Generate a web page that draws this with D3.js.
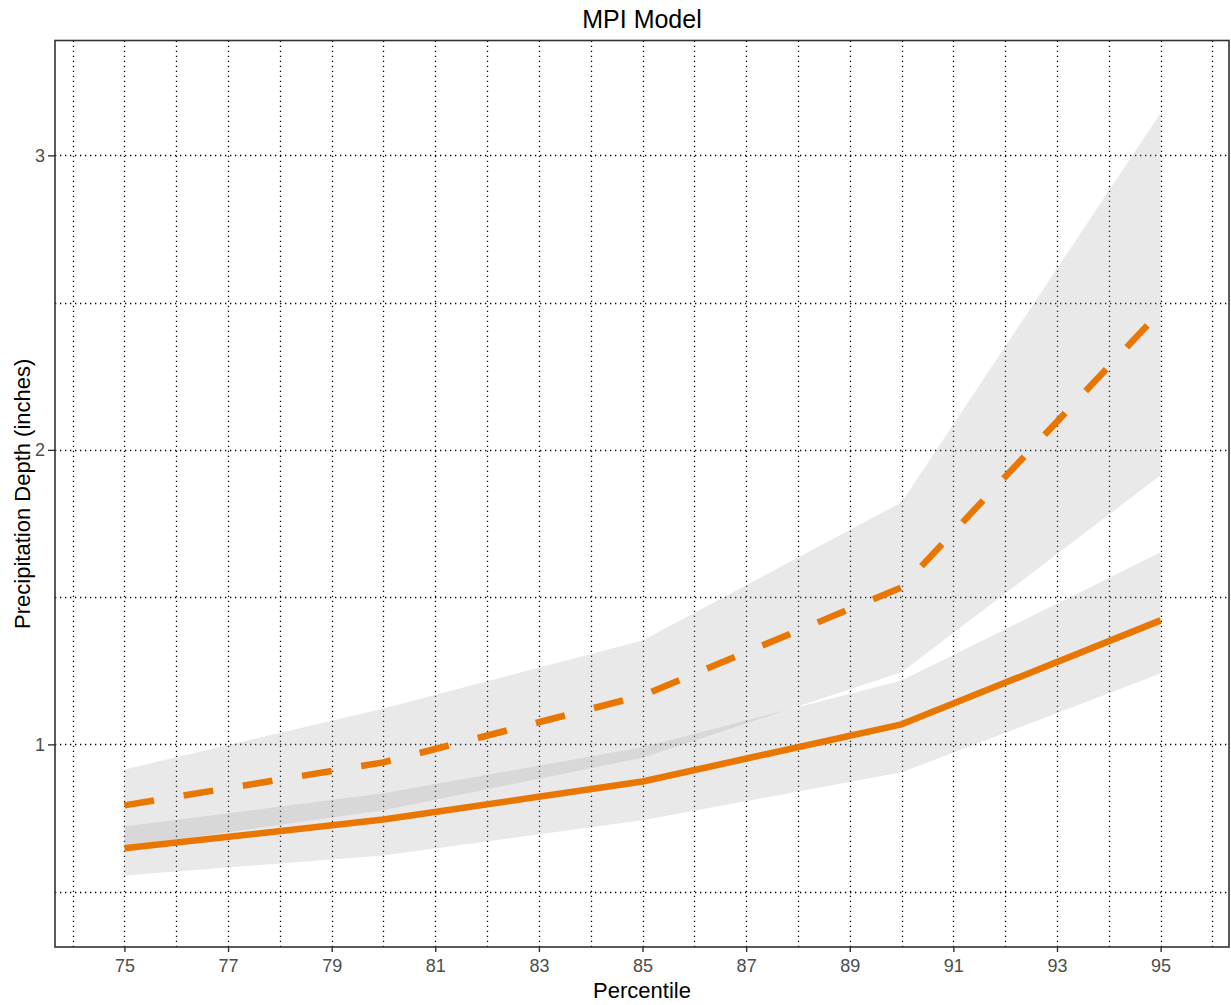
<!DOCTYPE html>
<html>
<head>
<meta charset="utf-8">
<title>MPI Model</title>
<script src="https://cdn.jsdelivr.net/npm/d3@7"></script>
<style>
  html, body { margin: 0; padding: 0; background: #ffffff; }
  svg { display: block; font-family: "Liberation Sans", Arial, sans-serif; }
</style>
</head>
<body>
<svg id="chart" width="1231" height="1005"></svg>
<script>
// Percentiles at which the depths were computed
const percentiles = [75, 80, 85, 90, 95];

// Baseline series (solid line) with its confidence band
const baseDepth = [0.647, 0.745, 0.874, 1.068, 1.421];
const baseLower = [0.555, 0.623, 0.742, 0.905, 1.241];
const baseUpper = [0.721, 0.834, 0.990, 1.217, 1.652];

// Projected series (dashed line) with its confidence band
const futureDepth = [0.793, 0.939, 1.166, 1.533, 2.471];
const futureLower = [0.653, 0.776, 0.955, 1.245, 1.914];
const futureUpper = [0.915, 1.122, 1.353, 1.822, 3.144];

// Axis ticks and grid positions
const xTickValues = [75, 77, 79, 81, 83, 85, 87, 89, 91, 93, 95];
const yTickValues = [1, 2, 3];
const xGridValues = d3.range(74, 97, 1);
const yGridValues = [0.5, 1, 1.5, 2, 2.5, 3];

const svg = d3.select("#chart");
const panel = { left: 55, right: 1229, top: 40.5, bottom: 947 };

const x = d3.scaleLinear().domain([73.66, 96.32]).range([panel.left, panel.right]);
const y = d3.scaleLinear().domain([0.312, 3.39]).range([panel.bottom, panel.top]);

const lineColor = "#E97600";
// keep 1px-ish dotted grid lines crisp by centring them on a pixel
const crisp = v => Math.round(v) + 0.5;

// Dotted grid
const grid = svg.append("g").attr("class", "grid")
  .attr("stroke", "#000000").attr("stroke-width", 1.3)
  .attr("stroke-dasharray", "1.3,3.7");
grid.selectAll("line.gx").data(xGridValues).join("line")
  .attr("class", "gx")
  .attr("x1", d => crisp(x(d))).attr("x2", d => crisp(x(d)))
  .attr("y1", panel.bottom).attr("y2", panel.top);
grid.selectAll("line.gy").data(yGridValues).join("line")
  .attr("class", "gy")
  .attr("x1", panel.left).attr("x2", panel.right)
  .attr("y1", d => crisp(y(d))).attr("y2", d => crisp(y(d)));

// Confidence bands
const bandData = (lo, hi) => percentiles.map((p, i) => ({ p, lo: lo[i], hi: hi[i] }));
const area = d3.area().x(d => x(d.p)).y0(d => y(d.lo)).y1(d => y(d.hi));

const bands = svg.append("g").attr("class", "bands");
[[baseLower, baseUpper], [futureLower, futureUpper]].forEach(([lo, hi]) => {
  bands.append("path")
    .datum(bandData(lo, hi))
    .attr("d", area)
    .attr("fill", "#999999")
    .attr("fill-opacity", 0.22);
});

// Lines
const line = d3.line().x(d => x(d.p)).y(d => y(d.v));
const toPoints = vals => percentiles.map((p, i) => ({ p, v: vals[i] }));

svg.append("path")
  .datum(toPoints(baseDepth))
  .attr("d", line)
  .attr("fill", "none")
  .attr("stroke", lineColor)
  .attr("stroke-width", 6.5)
  .attr("stroke-linejoin", "round");

svg.append("path")
  .datum(toPoints(futureDepth))
  .attr("d", line)
  .attr("fill", "none")
  .attr("stroke", lineColor)
  .attr("stroke-width", 6.5)
  .attr("stroke-dasharray", "30,30");

// Panel border
svg.append("rect")
  .attr("x", panel.left).attr("y", panel.top)
  .attr("width", panel.right - panel.left)
  .attr("height", panel.bottom - panel.top)
  .attr("fill", "none")
  .attr("stroke", "#333333")
  .attr("stroke-width", 1.6);

// Axes
const xAxis = svg.append("g")
  .attr("transform", `translate(0,${panel.bottom})`)
  .call(d3.axisBottom(x).tickValues(xTickValues).tickSize(5).tickPadding(7).tickSizeOuter(0));
const yAxis = svg.append("g")
  .attr("transform", `translate(${panel.left},0)`)
  .call(d3.axisLeft(y).tickValues(yTickValues).tickSize(7).tickPadding(3).tickFormat(d3.format("d")).tickSizeOuter(0));

[xAxis, yAxis].forEach(g => {
  g.select(".domain").remove();
  g.selectAll(".tick line").attr("stroke", "#333333").attr("stroke-width", 1.4);
  g.selectAll(".tick text")
    .attr("fill", "#4d4d4d")
    .style("font-size", "18px")
    .style("font-family", "Liberation Sans, Arial, sans-serif");
});

// Titles
svg.append("text")
  .attr("x", (panel.left + panel.right) / 2)
  .attr("y", 28)
  .attr("text-anchor", "middle")
  .attr("fill", "#000")
  .style("font-size", "25px")
  .text("MPI Model");

svg.append("text")
  .attr("x", (panel.left + panel.right) / 2)
  .attr("y", 998)
  .attr("text-anchor", "middle")
  .attr("fill", "#000")
  .style("font-size", "22px")
  .text("Percentile");

svg.append("text")
  .attr("transform", `translate(30,${(panel.top + panel.bottom) / 2}) rotate(-90)`)
  .attr("text-anchor", "middle")
  .attr("fill", "#000")
  .style("font-size", "22px")
  .text("Precipitation Depth (inches)");
</script>
</body>
</html>
